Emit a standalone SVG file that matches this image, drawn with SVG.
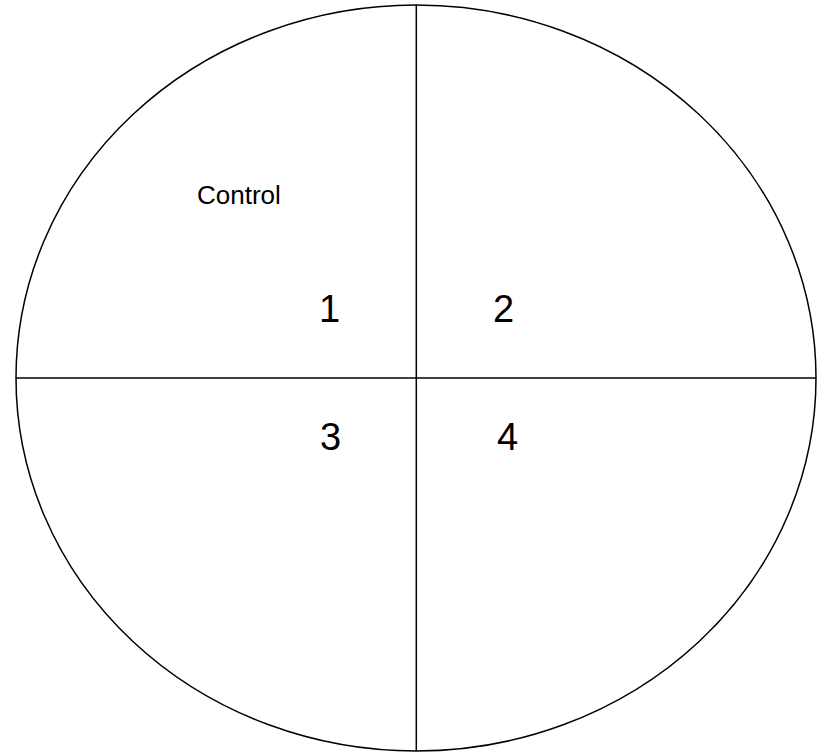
<svg xmlns="http://www.w3.org/2000/svg" width="821" height="752" viewBox="0 0 821 752">
<style>
.ln{fill:none;stroke:#000;stroke-width:1.5}
.t{font-family:"Liberation Sans",Arial,sans-serif;fill:#000}
</style>
<rect width="821" height="752" fill="#fff"/>
<g id="plate">
<ellipse class="ln" cx="416" cy="378" rx="400" ry="373"/>
</g>
<g id="connectors">
<line class="ln" x1="416.3" y1="5" x2="416.3" y2="751"/>
<line class="ln" x1="16" y1="378" x2="816" y2="378"/>
</g>
<g id="label-control"><text class="t" x="197" y="204" font-size="26">Control</text></g>
<g id="q1"><text class="t" x="319" y="322" font-size="38">1</text></g>
<g id="q2"><text class="t" x="493" y="322" font-size="38">2</text></g>
<g id="q3"><text class="t" x="320" y="450" font-size="38">3</text></g>
<g id="q4"><text class="t" x="497" y="450" font-size="38">4</text></g>
</svg>
